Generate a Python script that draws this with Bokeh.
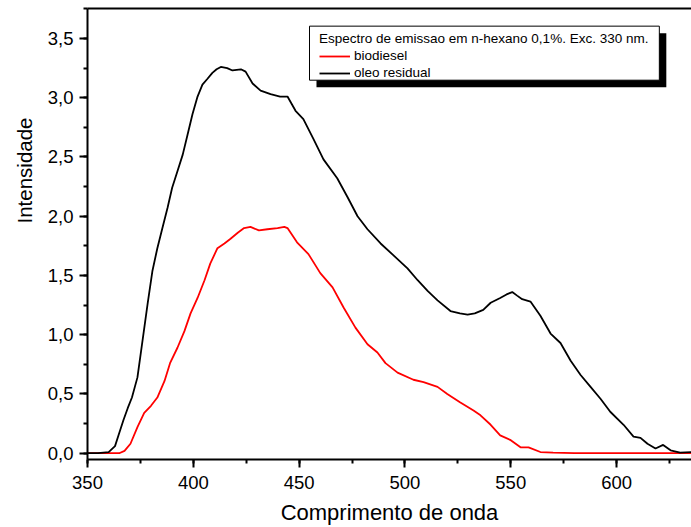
import math
from bokeh.plotting import figure
from bokeh.models import (Range1d, SingleIntervalTicker, LinearAxis, FixedTicker,
                          CustomJSTickFormatter, Legend, LegendItem, BoxAnnotation, Title)
from bokeh.embed import file_html
from bokeh.resources import INLINE

# ---- data ----
oleo_x = [350, 355, 360, 363, 365, 367, 369, 371, 373.6, 376, 378.4, 380.7, 383, 385.4,
          387.8, 390, 392.5, 395, 397.3, 399.6, 402, 404.3, 406.7, 409, 411, 413, 416,
          418.5, 420.5, 422.5, 424.7, 428, 431.8, 436.5, 441, 444.5, 448.3, 452, 456.8,
          461.5, 468, 472.9, 477.6, 482.3, 488.5, 494.6, 501.2, 506, 510.7, 515.4, 521.5,
          526, 529.6, 533, 537, 540.5, 545, 548, 550.7, 553, 555.4, 559.3, 564, 568.8,
          573.5, 578.3, 583, 587.7, 592.4, 597, 603.3, 608, 611.3, 614.6, 618.4, 622,
          625.5, 630, 635.4]
oleo_y = [0.00, 0.00, 0.01, 0.06, 0.17, 0.28, 0.38, 0.47, 0.64, 0.95, 1.26, 1.54, 1.73, 1.90,
          2.07, 2.24, 2.38, 2.52, 2.69, 2.86, 3.01, 3.11, 3.16, 3.21, 3.24, 3.26, 3.25,
          3.23, 3.235, 3.24, 3.22, 3.12, 3.06, 3.03, 3.01, 3.01, 2.89, 2.82, 2.65,
          2.48, 2.32, 2.16, 2.00, 1.89, 1.77, 1.67, 1.56, 1.46, 1.37, 1.29, 1.20,
          1.18, 1.17, 1.18, 1.21, 1.27, 1.31, 1.34, 1.36, 1.33, 1.30, 1.28, 1.16, 1.01,
          0.93, 0.78, 0.66, 0.56, 0.46, 0.35, 0.24, 0.14, 0.13, 0.08, 0.04, 0.07,
          0.025, 0.005, 0.01]

bio_x = [350, 360, 365, 367.5, 370.3, 373.6, 376.8, 380, 383, 386.4, 389, 392.5, 395.8,
         398.7, 402, 405.3, 408, 411.4, 414.7, 417.6, 421, 424, 427, 431, 435, 439.8, 443,
         444.5, 449, 454.4, 460, 465.8, 471, 476.6, 482.3, 487, 490.8, 496.5, 504, 508.8,
         515.4, 520, 526, 532.4, 535.7, 540.5, 545, 550, 554.6, 558.4, 564, 570, 580, 600,
         620, 635.4]
bio_y = [0.0, 0.0, 0.0, 0.02, 0.08, 0.22, 0.34, 0.40, 0.47, 0.61, 0.76, 0.89, 1.03,
         1.18, 1.31, 1.46, 1.60, 1.73, 1.77, 1.81, 1.86, 1.90, 1.91, 1.88, 1.89, 1.90, 1.91,
         1.90, 1.78, 1.68, 1.52, 1.40, 1.23, 1.06, 0.92, 0.85, 0.76, 0.68, 0.62, 0.60,
         0.56, 0.50, 0.43, 0.36, 0.32, 0.24, 0.15, 0.11, 0.05, 0.05, 0.01, 0.005, 0.0, 0.0,
         0.0, 0.0]

legend_title = "Espectro de emissao em n-hexano 0,1%. Exc. 330 nm."
series_labels = ["biodiesel", "oleo residual"]
x_title = "Comprimento de onda"
y_title = "Intensidade"

FONT = "Liberation Sans"

p = figure(width=691, height=527, output_backend="svg", toolbar_location=None,
           x_range=Range1d(350, 635.4), y_range=Range1d(-0.053, 3.753),
           min_border_left=87, min_border_right=0, min_border_top=8, min_border_bottom=68)
p.background_fill_color = "white"
p.border_fill_color = "white"
p.outline_line_color = None
p.xgrid.visible = False
p.ygrid.visible = False

r_bio = p.line(bio_x, bio_y, line_color="#ff0000", line_width=1.8)
r_oleo = p.line(oleo_x, oleo_y, line_color="#000000", line_width=1.8)

for ax in (p.xaxis[0], p.yaxis[0]):
    ax.axis_line_width = 2
    ax.axis_line_color = "black"
    ax.major_tick_in = 0
    ax.major_tick_out = 8
    ax.minor_tick_in = 0
    ax.minor_tick_out = 4
    ax.major_tick_line_width = 2
    ax.minor_tick_line_width = 2
    ax.major_tick_line_color = "black"
    ax.minor_tick_line_color = "black"
    ax.major_label_text_font = FONT
    ax.major_label_text_font_size = "18.5px"
    ax.major_label_text_color = "black"

p.xaxis.ticker = SingleIntervalTicker(interval=50, num_minor_ticks=2)
p.yaxis.ticker = SingleIntervalTicker(interval=0.5, num_minor_ticks=2)
p.yaxis.formatter = CustomJSTickFormatter(code="return tick.toFixed(1).replace('.', ',');")
p.xaxis.major_label_standoff = 8
p.yaxis.major_label_standoff = 6

p.xaxis.axis_label = x_title
p.xaxis.axis_label_text_font = FONT
p.xaxis.axis_label_text_font_size = "22px"
p.xaxis.axis_label_text_font_style = "normal"
p.xaxis.axis_label_text_color = "black"
p.xaxis.axis_label_standoff = 8

top_axis = LinearAxis(ticker=FixedTicker(ticks=[]), axis_line_width=2, axis_line_color="black",
                      major_tick_out=0, major_tick_in=0, minor_tick_out=0, minor_tick_in=0,
                      major_label_standoff=0, major_label_text_font_size="0px")
p.add_layout(top_axis, "above")

ytitle = Title(text=y_title, align="right", vertical_align="bottom", offset=109, standoff=18,
               text_font=FONT, text_font_size="20.5px", text_font_style="normal",
               text_color="black")
p.add_layout(ytitle, "left")

# legend frame (white box) and its drop shadow
shadow = BoxAnnotation(left=458.2, right=623.5, top=3.545, bottom=3.089,
                       fill_color="black", fill_alpha=1.0, line_color=None)
p.add_layout(shadow)
legend_box = BoxAnnotation(left=454.9, right=620.2, top=3.604, bottom=3.148,
                           fill_color="white", fill_alpha=1.0,
                           line_color="black", line_width=1, line_alpha=1.0)
p.add_layout(legend_box)

legend = Legend(items=[LegendItem(label=series_labels[0], renderers=[r_bio]),
                       LegendItem(label=series_labels[1], renderers=[r_oleo])],
                title=legend_title, location=(232, 379))
legend.border_line_color = None
legend.background_fill_alpha = 0
legend.padding = 3
legend.spacing = 2
legend.margin = 0
legend.label_standoff = 4
legend.glyph_width = 31
legend.glyph_height = 14
legend.label_height = 14
legend.title_standoff = 2
legend.title_text_font = FONT
legend.title_text_font_size = "13.5px"
legend.title_text_font_style = "normal"
legend.title_text_color = "black"
legend.label_text_font = FONT
legend.label_text_font_size = "13.5px"
legend.label_text_color = "black"
p.add_layout(legend)

open("out.html", "w").write(file_html(p, INLINE))
